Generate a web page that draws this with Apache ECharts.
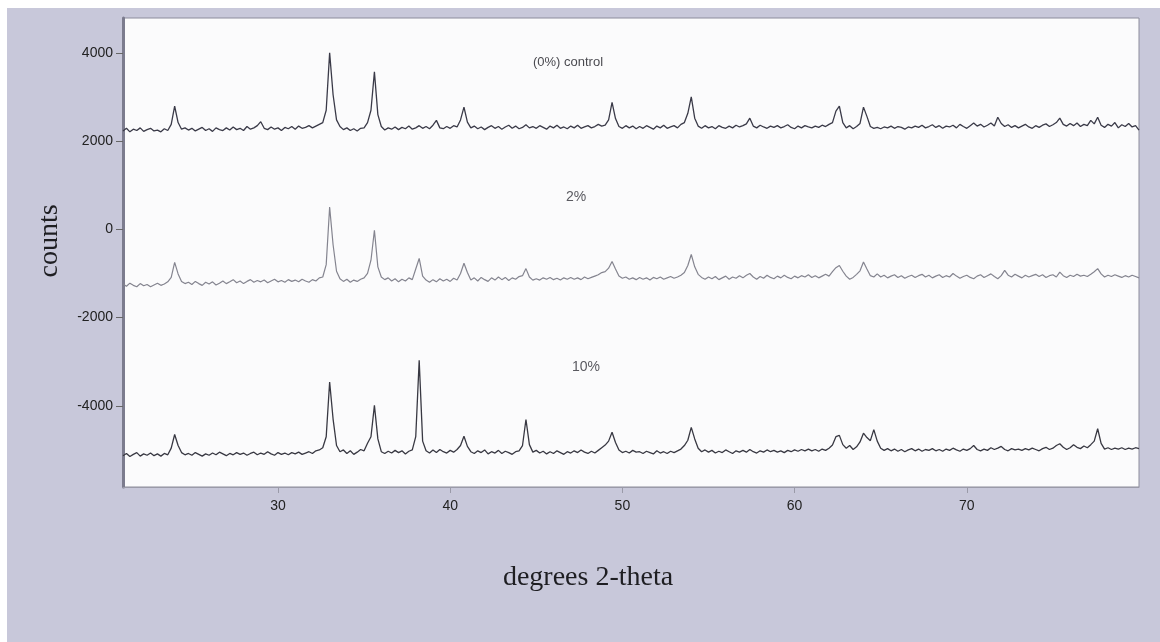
<!DOCTYPE html>
<html>
<head>
<meta charset="utf-8">
<script src="https://cdn.jsdelivr.net/npm/echarts@6/dist/echarts.min.js"></script>
<style>
  html, body { margin: 0; padding: 0; background: #ffffff; }
  #paper { position: absolute; left: 7px; top: 8px; width: 1153px; height: 634px; background: #c8c8da; }
  #chart { position: absolute; left: 0; top: 0; width: 1160px; height: 642px; }
</style>
</head>
<body>
<div id="paper"></div>
<div id="chart"></div>
<script>
// Powder diffraction scans, recorded from 21 to 80 degrees 2-theta in 0.2 degree steps.
// Each scan is stacked with its own vertical offset.
const scanStart = 21;
const scanStep = 0.2;

const xTicks = [30, 40, 50, 60, 70];
const yTicks = [-4000, -2000, 0, 2000, 4000];

const seriesNames = ['(0%) control', '2%', '10%'];

// (0%) control, ten points per row (2 degrees per row)
const control = [
  2230, 2290, 2210, 2270, 2240, 2300, 2220, 2260, 2290, 2230,
  2250, 2210, 2280, 2240, 2380, 2790, 2420, 2270, 2300, 2250,
  2290, 2230, 2270, 2310, 2240, 2280, 2220, 2300, 2260, 2240,
  2300, 2250, 2320, 2260, 2290, 2240, 2330, 2270, 2300, 2350,
  2440, 2290, 2260, 2320, 2270, 2300, 2240, 2310, 2280, 2330,
  2270, 2340, 2290, 2310, 2350, 2300, 2340, 2380, 2420, 2700,
  4000, 3050, 2480, 2330, 2260, 2300, 2240, 2280, 2230, 2290,
  2300, 2420, 2700, 3570, 2600, 2330, 2250, 2300, 2270, 2320,
  2260, 2310, 2280, 2340, 2270, 2300, 2350, 2290, 2330, 2280,
  2360, 2470, 2300, 2280, 2330, 2290, 2350, 2320, 2480, 2770,
  2430, 2300, 2340, 2280, 2320, 2260, 2310, 2350, 2290, 2330,
  2270, 2320, 2360, 2290, 2340, 2280, 2310, 2370, 2300, 2330,
  2290, 2350, 2310, 2270, 2340, 2300, 2360, 2290, 2320, 2280,
  2340, 2300, 2360, 2290, 2320, 2350, 2300, 2330, 2380, 2340,
  2360, 2480, 2880, 2510, 2330, 2290, 2350, 2300, 2340, 2280,
  2330, 2290, 2350, 2310, 2270, 2340, 2300, 2360, 2290, 2320,
  2350, 2300, 2380, 2420, 2630, 3000, 2520, 2340, 2290, 2350,
  2300, 2330, 2280, 2350, 2310, 2290, 2340, 2300, 2360, 2320,
  2350, 2390, 2520, 2340, 2300, 2360, 2320, 2290, 2340, 2310,
  2350, 2300, 2330, 2370, 2310, 2280, 2340, 2300, 2350, 2320,
  2300, 2340, 2310, 2360, 2330, 2380, 2420, 2680, 2790, 2420,
  2300, 2350, 2280, 2330, 2400, 2770, 2560, 2330, 2290, 2310,
  2280, 2320, 2300, 2340, 2290, 2330, 2310, 2270, 2320, 2300,
  2340, 2310, 2360, 2300, 2330, 2370, 2310, 2350, 2290, 2340,
  2320, 2360, 2300, 2380, 2330, 2290, 2350, 2410, 2340, 2380,
  2320, 2360, 2410, 2340, 2540, 2400, 2330, 2370, 2310, 2350,
  2300, 2340, 2380, 2320, 2290, 2350, 2310, 2360, 2390, 2330,
  2370, 2420, 2520, 2380, 2340, 2400, 2350, 2410, 2330, 2380,
  2350, 2470, 2390, 2540, 2360, 2310, 2380, 2340, 2420, 2300,
  2370, 2330, 2400, 2320, 2350, 2250
];

// 2%
const doped2 = [
  -1240, -1290, -1220, -1270, -1300, -1230, -1280, -1250, -1300, -1260,
  -1220, -1270, -1240, -1190, -1090, -750, -1010, -1180, -1230, -1200,
  -1250, -1180, -1230, -1270, -1200, -1240, -1190, -1260, -1220, -1170,
  -1230, -1190, -1140, -1210, -1170, -1230, -1180, -1140, -1200, -1160,
  -1190, -1150, -1210, -1170, -1130, -1190, -1160, -1200, -1140, -1180,
  -1150, -1190, -1130, -1170, -1200, -1140, -1170, -1100, -1080, -800,
  505, -350, -950, -1120, -1180, -1130, -1200, -1150, -1180, -1130,
  -1100, -1000, -700, -20, -850, -1080, -1140, -1100, -1170, -1120,
  -1190, -1130, -1170, -1100, -1140, -900, -660, -1060, -1150, -1200,
  -1140, -1190, -1120, -1170, -1130, -1180, -1110, -1150, -1000, -770,
  -980, -1150, -1100, -1170, -1090, -1140, -1180, -1100, -1150, -1080,
  -1140, -1090, -1160, -1100, -1130, -1070, -1050, -890, -1080, -1150,
  -1120, -1150, -1100, -1130, -1090, -1140, -1110, -1150, -1100, -1130,
  -1090, -1130, -1100, -1140, -1080, -1120, -1090, -1060, -1030, -980,
  -960, -880, -730, -900, -1060, -1110, -1080, -1130, -1100, -1140,
  -1090, -1130, -1100, -1150, -1090, -1120, -1080, -1130, -1100, -1070,
  -1110, -1080, -1040, -980, -820, -570, -850, -1020, -1090, -1130,
  -1080, -1120, -1070, -1140, -1100, -1060, -1130, -1080, -1110, -1050,
  -1100, -1040, -1000, -1080, -1130, -1070, -1110, -1040, -1090, -1120,
  -1060, -1100, -1040, -1090, -1120, -1060, -1100, -1050, -1080, -1030,
  -1090, -1050, -1100, -1060, -1020, -1060, -960, -870, -820, -950,
  -1060, -1130, -1090, -1020, -940, -740, -900, -1050, -1080, -1010,
  -1080, -1040, -1100, -1060, -1030, -1090, -1050, -1110, -1070, -1040,
  -1090, -1050, -1020, -1080, -1040, -1100, -1060, -1030, -1090, -1050,
  -1080, -1000, -1060, -1110, -1070, -1040, -1090, -1120, -1060, -1030,
  -1090, -1050, -1010, -1070, -1120, -1050, -930, -1040, -1080, -1020,
  -1060, -1100, -1040, -1080, -1050, -1020, -1070, -1030, -1090, -1050,
  -1030, -1080, -970, -1050, -1090, -1040, -1070, -1020, -1060, -1040,
  -1070, -1020, -960, -890, -1010, -1080, -1040, -1070, -1030, -1060,
  -1090, -1050, -1080, -1040, -1070, -1100
];

// 10%
const doped10 = [
  -5130, -5080, -5150, -5100, -5060, -5140, -5090, -5120, -5070, -5130,
  -5090, -5140, -5080, -5110, -4960, -4650, -4900, -5060, -5110, -5080,
  -5120, -5060, -5100, -5140, -5090, -5120, -5070, -5110, -5050, -5090,
  -5130, -5080, -5110, -5060, -5100, -5070, -5120, -5080, -5050, -5110,
  -5070, -5100, -5040, -5090, -5120, -5060, -5100, -5070, -5110, -5060,
  -5090, -5050, -5100, -5070, -5040, -5080, -5020, -5000, -4950, -4700,
  -3460, -4300, -4900, -5040, -5000, -5080, -5020, -5100, -5050, -4990,
  -5020, -4850, -4700, -3990, -4750, -5040, -5080, -5030, -5070, -5010,
  -5060, -5020, -5090, -5030, -5000, -4700, -2970, -4800, -5020, -5070,
  -5000, -5060, -4990, -5040, -5070, -5010, -5050, -4990, -4900, -4690,
  -4920, -5040, -5080, -5020, -5060, -5000, -5090, -5040, -5070, -5010,
  -5080, -5030, -5060, -5100, -5040, -5020, -4900, -4310, -4880, -5050,
  -5010, -5070, -5030, -5090, -5040, -5080, -5020, -5060, -5100, -5040,
  -5070, -5020, -5060, -5000, -5050, -5080, -5030, -5070, -5010, -4950,
  -4890, -4800, -4600, -4830, -5000, -5060, -5030, -5070, -5010, -5050,
  -5040, -5080, -5030, -5060, -5090, -5020, -5070, -5040, -5080, -5030,
  -5060, -5020, -4980, -4900, -4780, -4490, -4750, -4960, -5040, -5000,
  -5050, -5010, -5070, -5030, -5060, -5000, -5040, -5080, -5020, -5050,
  -5010, -5050, -4990, -5040, -5070, -5020, -5050, -5000, -5040, -5010,
  -5050, -5020, -5060, -5010, -5040, -5000, -5030, -4990, -5020, -4980,
  -5020, -4990, -5030, -4980, -5010, -4960, -4890, -4700, -4670, -4880,
  -4960, -4900, -4990, -4930, -4820, -4620, -4720, -4790, -4540, -4800,
  -4960, -5010, -4970, -5020, -4980, -5030, -4990, -5040, -5000, -4970,
  -5020, -4980, -5030, -4990, -5010, -4970, -5020, -4990, -5030, -4980,
  -5010, -4960, -5000, -5030, -4980, -5010, -4970, -4900, -4990, -5020,
  -4980, -5010, -4950, -4990, -4960, -4920, -4990, -5020, -4970, -5000,
  -4980, -5010, -4970, -5000, -4960, -4990, -5020, -4970, -4940, -4990,
  -4960, -4900, -4860, -4940, -4990, -4950, -4880, -4940, -4970, -4910,
  -4950, -4880, -4800, -4520, -4850, -4980, -4950, -4990, -4960, -4980,
  -4950, -4990, -4960, -4980, -4950, -4970
];

function toPoints(values) {
  return values.map(function (v, i) {
    return [Math.round((scanStart + i * scanStep) * 10) / 10, v];
  });
}

const chart = echarts.init(document.getElementById('chart'), null, { renderer: 'canvas' });

const sansFont = '"Liberation Sans", Arial, Helvetica, sans-serif';
const serifFont = '"Liberation Serif", "Times New Roman", serif';

chart.setOption({
  animation: false,
  backgroundColor: 'transparent',
  grid: {
    left: 123, right: 21, top: 18, bottom: 155,
    show: true,
    backgroundColor: '#fbfbfc',
    borderColor: '#8c8c9c',
    borderWidth: 1
  },
  xAxis: {
    type: 'value',
    min: 21,
    max: 80,
    axisLine: { show: true, onZero: false, lineStyle: { color: '#9a9aa8', width: 1 } },
    axisTick: { show: true, customValues: xTicks, length: 6, lineStyle: { color: '#9a9aa8' } },
    axisLabel: { customValues: xTicks, fontSize: 14, color: '#222', fontFamily: sansFont, margin: 12 },
    splitLine: { show: false }
  },
  yAxis: {
    type: 'value',
    min: -5840,
    max: 4790,
    axisLine: { show: true, onZero: false, lineStyle: { color: '#7c7c8e', width: 3 } },
    axisTick: { show: true, customValues: yTicks, length: 7, lineStyle: { color: '#666' } },
    axisLabel: {
      customValues: yTicks, fontSize: 14, color: '#222', fontFamily: sansFont, margin: 10,
      formatter: function (v) { return String(v); }
    },
    splitLine: { show: false }
  },
  series: [
    {
      name: seriesNames[0], type: 'line', data: toPoints(control),
      showSymbol: false, lineStyle: { color: '#3a3a48', width: 1.3 }
    },
    {
      name: seriesNames[1], type: 'line', data: toPoints(doped2),
      showSymbol: false, lineStyle: { color: '#84848f', width: 1.2 }
    },
    {
      name: seriesNames[2], type: 'line', data: toPoints(doped10),
      showSymbol: false, lineStyle: { color: '#383842', width: 1.3 }
    }
  ],
  graphic: [
    {
      type: 'text', x: 50, y: 241, rotation: Math.PI / 2, silent: true,
      style: { text: 'counts', font: '28px ' + serifFont, fill: '#1e1e22', textAlign: 'center', textVerticalAlign: 'middle' }
    },
    {
      type: 'text', x: 588, y: 578, silent: true,
      style: { text: 'degrees 2-theta', font: '28px ' + serifFont, fill: '#1e1e22', textAlign: 'center', textVerticalAlign: 'middle' }
    },
    {
      type: 'text', x: 568, y: 62, silent: true,
      style: { text: seriesNames[0], font: '13px ' + sansFont, fill: '#4a4a50', textAlign: 'center', textVerticalAlign: 'middle' }
    },
    {
      type: 'text', x: 576, y: 197, silent: true,
      style: { text: seriesNames[1], font: '14px ' + sansFont, fill: '#5a5a60', textAlign: 'center', textVerticalAlign: 'middle' }
    },
    {
      type: 'text', x: 586, y: 367, silent: true,
      style: { text: seriesNames[2], font: '14px ' + sansFont, fill: '#5a5a60', textAlign: 'center', textVerticalAlign: 'middle' }
    }
  ]
});
</script>
</body>
</html>
